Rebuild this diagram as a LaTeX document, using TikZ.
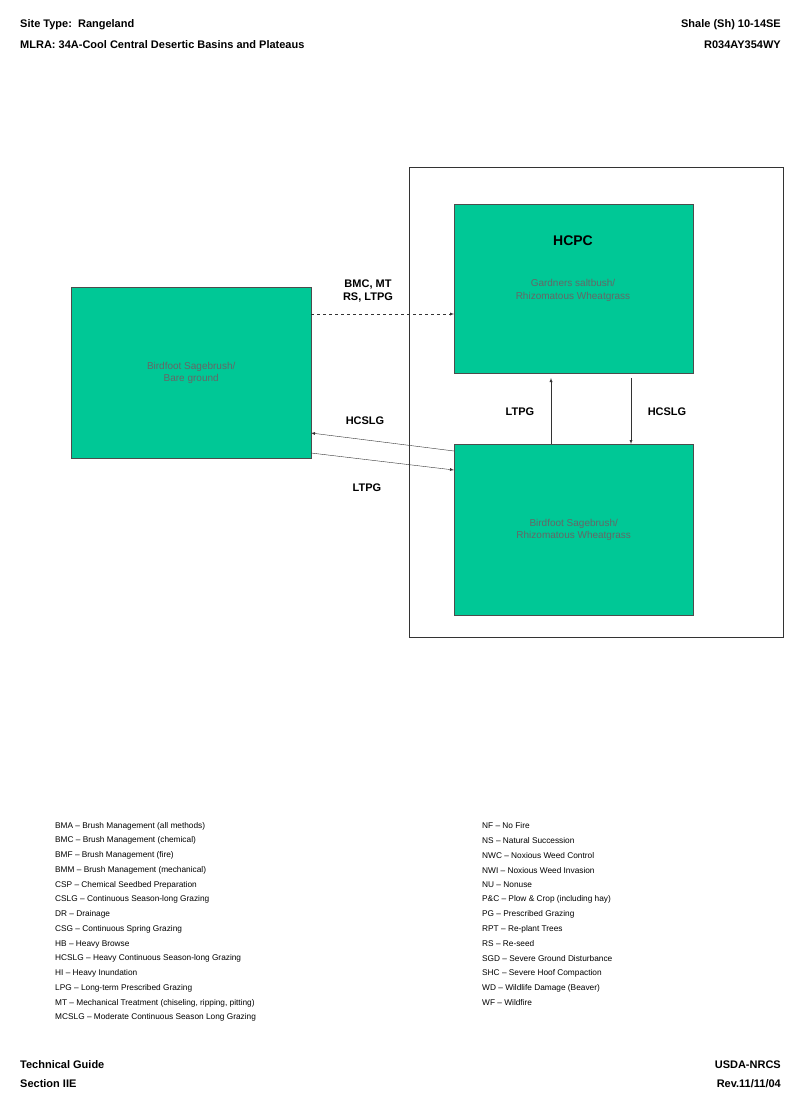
\documentclass[tikz,border=0pt]{standalone}
\usepackage{fontspec}
\setmainfont{Liberation Sans}
\begin{document}
\begin{tikzpicture}[x=1pt,y=-1pt,
  state/.style={draw=black!70,fill=boxgreen,minimum width=240pt,minimum height=170pt,anchor=north west,inner sep=0pt,font=\fontsize{10}{12}\selectfont,text=black!60,align=center},
  lbl/.style={font=\bfseries\fontsize{11}{13}\selectfont,align=center},
  hdr/.style={font=\bfseries\fontsize{11}{13}\selectfont,inner sep=0pt},
  leg/.style={font=\fontsize{8.3}{10}\selectfont,inner sep=0pt,anchor=west},
  arr/.style={-latex,black!80}]
\definecolor{boxgreen}{HTML}{00C896}
\useasboundingbox[fill=white] (0,0) rectangle (800,1108);
\node[hdr,anchor=west] (h1) at (20,25) {Site Type:\ \ Rangeland};
\node[hdr,anchor=west] (h2) at (20,45) {MLRA: 34A-Cool Central Desertic Basins and Plateaus};
\node[hdr,anchor=east] (h3) at (781,25) {Shale (Sh) 10-14SE};
\node[hdr,anchor=east] (h4) at (781,45) {R034AY354WY};
\node[draw=black!80,minimum width=374pt,minimum height=470pt,anchor=north west] (frame) at (409,167) {};
\node[state,minimum width=239pt,minimum height=169pt] (hcpc) at (454,204) {};
\node[font=\bfseries\fontsize{14}{16}\selectfont] (ht) at (573,241) {HCPC};
\node[font=\fontsize{10}{13}\selectfont,text=black!60,align=center] (ht2) at (573,290) {Gardners saltbush/\\Rhizomatous Wheatgrass};
\node[state,minimum width=239pt,minimum height=171pt] (bot) at (454,444) {Birdfoot Sagebrush/\\Rhizomatous Wheatgrass};
\node[state,minimum width=240pt,minimum height=171pt] (left) at (71,287) {Birdfoot Sagebrush/\\Bare ground};
\draw[arr,dashed] (311,314) -- (454,314);
\node[lbl] (l1) at (368,291) {BMC, MT\\RS, LTPG};
\draw[arr] (551,444) -- (551,378);
\draw[arr] (631,378) -- (631,444);
\node[lbl] (l2) at (520,412) {LTPG};
\node[lbl] (l3) at (667,412) {HCSLG};
\draw[arr] (454,451) -- (311,433);
\draw[arr] (311,453) -- (454,470);
\node[lbl] (l4) at (365,421) {HCSLG};
\node[lbl] (l5) at (367,488) {LTPG};
\foreach \t [count=\i from 0] in {BMA -- Brush Management (all methods),BMC -- Brush Management (chemical),BMF -- Brush Management (fire),BMM -- Brush Management (mechanical),CSP -- Chemical Seedbed Preparation,CSLG -- Continuous Season-long Grazing,DR -- Drainage,CSG -- Continuous Spring Grazing,HB -- Heavy Browse,HCSLG -- Heavy Continuous Season-long Grazing,HI -- Heavy Inundation,LPG -- Long-term Prescribed Grazing,{MT -- Mechanical Treatment (chiseling, ripping, pitting)},MCSLG -- Moderate Continuous Season Long Grazing}
  \node[leg] (a\i) at (55,826+14.75*\i) {\t};
\foreach \t [count=\i from 0] in {NF -- No Fire,NS -- Natural Succession,NWC -- Noxious Weed Control,NWI -- Noxious Weed Invasion,NU -- Nonuse,P\&C -- Plow \& Crop (including hay),PG -- Prescribed Grazing,RPT -- Re-plant Trees,RS -- Re-seed,SGD -- Severe Ground Disturbance,SHC -- Severe Hoof Compaction,WD -- Wildlife Damage (Beaver),WF -- Wildfire}
  \node[leg] (b\i) at (482,826+14.75*\i) {\t};
\node[hdr,anchor=west] (f1) at (20,1065) {Technical Guide};
\node[hdr,anchor=west] (f2) at (20,1084) {Section IIE};
\node[hdr,anchor=east] (f3) at (781,1065) {USDA-NRCS};
\node[hdr,anchor=east] (f4) at (781,1084) {Rev.11/11/04};
\end{tikzpicture}
\end{document}
